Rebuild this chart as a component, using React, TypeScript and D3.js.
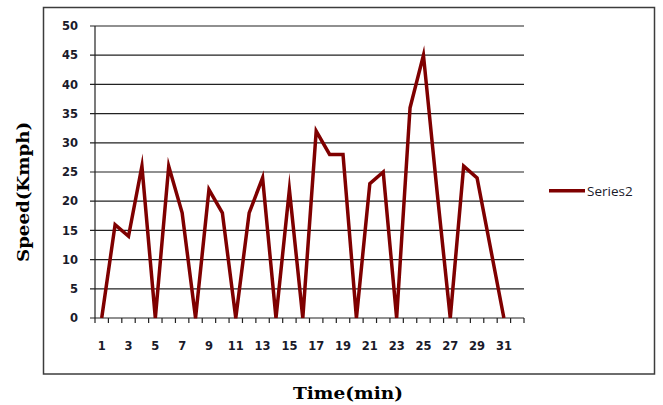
import React from "react";
import * as d3 from "d3";

const categories: number[] = Array.from({ length: 32 }, (_, i) => i + 1);
const speeds: (number | null)[] = [
  0, 16, 14, 26, 0, 26, 18, 0, 22, 18, 0, 18, 24, 0, 22, 0,
  32, 28, 28, 0, 23, 25, 0, 36, 45, 22, 0, 26, 24, 12, 0, null,
];
const yTicks: number[] = [0, 5, 10, 15, 20, 25, 30, 35, 40, 45, 50];
const xLabels: number[] = categories.filter((c) => c % 2 === 1);
const seriesName = "Series2";
const xTitle = "Time(min)";
const yTitle = "Speed(Kmph)";

const W = 663;
const H = 405;
const plot = { left: 95, right: 524, top: 26, bottom: 318 };
const lineColor = "#7f0000";
const gridColor = "#222";
const tickFont = "'DejaVu Sans', sans-serif";
const titleFont = "'DejaVu Serif', serif";

export default function App() {
  const x = d3
    .scaleBand<number>()
    .domain(categories)
    .range([plot.left, plot.right])
    .paddingInner(0)
    .paddingOuter(0);
  const y = d3.scaleLinear().domain([0, 50]).range([plot.bottom, plot.top]);
  const cx = (c: number) => (x(c) as number) + x.bandwidth() / 2;

  const pts = categories
    .map((c, i) => ({ c, v: speeds[i] }))
    .filter((d) => d.v !== null) as { c: number; v: number }[];
  const line = d3
    .line<{ c: number; v: number }>()
    .x((d) => cx(d.c))
    .y((d) => y(d.v));

  const boundaries = [...categories.map((c) => x(c) as number), plot.right];

  return (
    <svg
      width={W}
      height={H}
      style={{ position: "absolute", left: 0, top: 0, background: "#fff" }}
    >
      <defs>
        <clipPath id="plotClip">
          <rect x={plot.left} y={0} width={plot.right - plot.left} height={plot.bottom + 0.5} />
        </clipPath>
      </defs>
      <rect x={0} y={0} width={W} height={H} fill="#fff" />
      <rect
        x={43.5}
        y={7.5}
        width={611}
        height={366.5}
        fill="none"
        stroke="#3c3c3c"
        strokeWidth={1.5}
      />
      {yTicks.map((t) => (
        <line
          key={"g" + t}
          x1={plot.left - 5}
          x2={plot.right}
          y1={y(t)}
          y2={y(t)}
          stroke={gridColor}
          strokeWidth={1.2}
        />
      ))}
      <line
        x1={plot.left}
        x2={plot.left}
        y1={plot.top}
        y2={plot.bottom}
        stroke={gridColor}
        strokeWidth={1.2}
      />
      {boundaries.map((b, i) => (
        <line
          key={"t" + i}
          x1={b}
          x2={b}
          y1={plot.bottom}
          y2={plot.bottom + 5}
          stroke={gridColor}
          strokeWidth={1.2}
        />
      ))}
      {yTicks.map((t) => (
        <text
          key={"yl" + t}
          x={78}
          y={y(t)}
          dy="0.36em"
          textAnchor="end"
          fontFamily={tickFont}
          fontWeight="bold"
          fontSize={11.5}
          fill="#1a1a2a"
        >
          {t}
        </text>
      ))}
      {xLabels.map((c) => (
        <text
          key={"xl" + c}
          x={cx(c)}
          y={346}
          dy="0.36em"
          textAnchor="middle"
          fontFamily={tickFont}
          fontWeight="bold"
          fontSize={11.5}
          fill="#1a1a2a"
        >
          {c}
        </text>
      ))}
      <path
        d={line(pts) || ""}
        fill="none"
        stroke={lineColor}
        strokeWidth={3.5}
        strokeLinejoin="miter"
        strokeMiterlimit={10}
        clipPath="url(#plotClip)"
      />
      <line x1={549} x2={585} y1={190.7} y2={190.7} stroke={lineColor} strokeWidth={3.5} />
      <text
        x={587}
        y={196}
        fontFamily="'Open Sans', sans-serif"
        fontSize={13.5}
        fill="#1a1a2a"
      >
        {seriesName}
      </text>
      <text
        x={348}
        y={399}
        textAnchor="middle"
        fontFamily={titleFont}
        fontWeight="bold"
        fontSize={16}
        textLength={110}
        lengthAdjust="spacingAndGlyphs"
        fill="#000"
      >
        {xTitle}
      </text>
      <text
        transform={`translate(29,192) rotate(-90)`}
        textAnchor="middle"
        fontFamily={titleFont}
        fontWeight="bold"
        fontSize={16}
        textLength={140}
        lengthAdjust="spacingAndGlyphs"
        fill="#000"
      >
        {yTitle}
      </text>
    </svg>
  );
}
